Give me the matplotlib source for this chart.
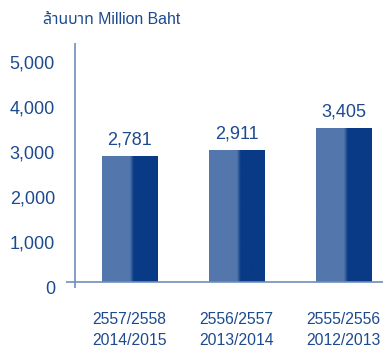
import numpy as np
import matplotlib.pyplot as plt
from matplotlib.transforms import ScaledTranslation

# data
years_th = ["2557/2558", "2556/2557", "2555/2556"]
years_en = ["2014/2015", "2013/2014", "2012/2013"]
values = [2781, 2911, 3405]
yticks = [0, 1000, 2000, 3000, 4000, 5000]

TXT = "#1d4a8e"
LIGHT = np.array([0x53, 0x77, 0xad]) / 255
DARK = np.array([0x08, 0x3a, 0x85]) / 255
LINE = "#6f8dbd"

plt.rcParams['font.family'] = ['Liberation Sans', 'Noto Sans Thai', 'Noto Sans', 'DejaVu Sans']

W, H = 383, 347
fig = plt.figure(figsize=(W / 100, H / 100), dpi=100)
# axes: x from 66 to 383 px, y from 43 to 288 px (from top)
ax = fig.add_axes([66 / W, 1 - 288 / H, (383 - 66) / W, (288 - 43) / H])
ax.set_ylim(-133, 5311)
ax.set_xlim(-0.593, 2.369)
for s in ax.spines.values():
    s.set_visible(False)

# gradient for the bars: light left part, dark right part
n = 60
f = np.linspace(0, 1, n)
t = np.clip((f - 0.50) / 0.07, 0, 1)
grad = (LIGHT[None, :] * (1 - t[:, None]) + DARK[None, :] * t[:, None])[None, :, :]

bw = 0.514
for i, v in enumerate(values):
    ax.imshow(grad, extent=(i - bw / 2, i + bw / 2, 0, v), aspect='auto', zorder=2,
              interpolation='bilinear')
    ax.text(i, v + 190, f"{v:,}", ha='center', va='bottom', fontsize=13, color=TXT)

ax.axhline(0, color=LINE, lw=1.2, zorder=3)
ax.axvline(-0.593 + 9 / 107, color=LINE, lw=1.2, zorder=3)

ax.set_yticks(yticks)
ax.set_yticklabels([f"{y:,}" for y in yticks], fontsize=13, color=TXT)
ax.tick_params(axis='y', length=0, pad=8)
for lab in ax.get_yticklabels():
    lab.set_transform(lab.get_transform() + ScaledTranslation(0, -5 / 100, fig.dpi_scale_trans))

ax.set_xticks(range(len(values)))
ax.set_xticklabels([a + "\n" + b for a, b in zip(years_th, years_en)], fontsize=11.3,
                   color=TXT, linespacing=1.55)
ax.tick_params(axis='x', length=0, pad=17)

fig.text(43 / W, 1 - 20 / H, "ล้านบาท Million Baht", fontsize=11.4, color=TXT,
         ha='left', va='center')

fig.savefig("out.png", dpi=100)
